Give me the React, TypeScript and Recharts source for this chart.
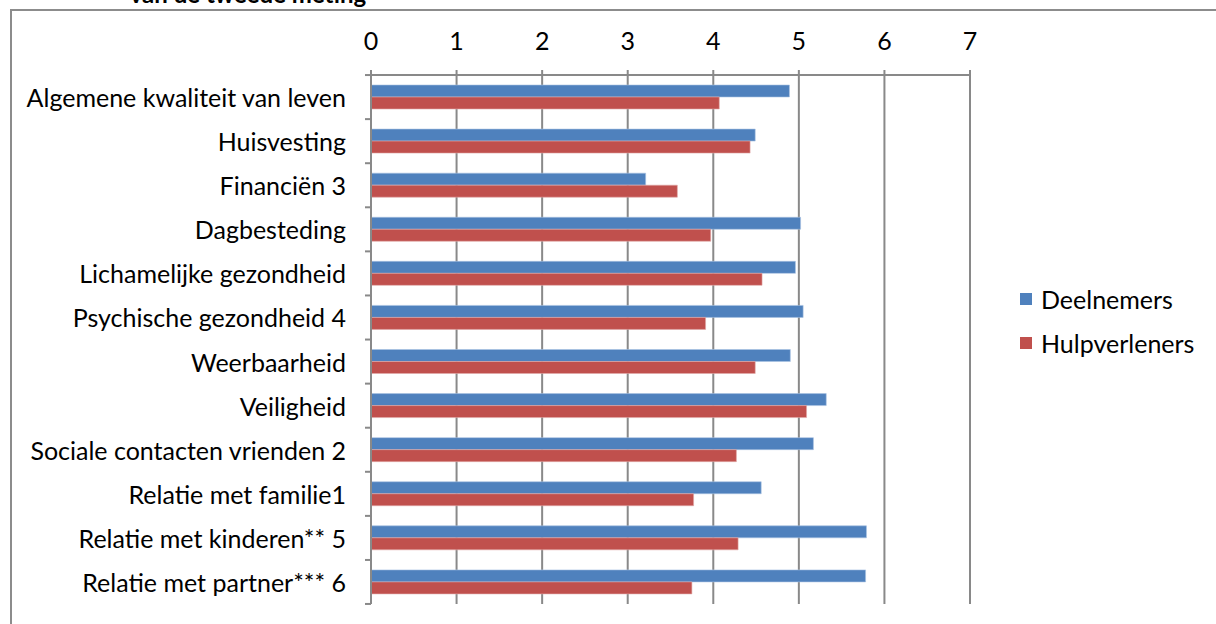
import React from 'react';
import {
  BarChart, Bar, XAxis, YAxis, CartesianGrid, Legend,
} from 'recharts';

const categories = [
  'Algemene kwaliteit van leven',
  'Huisvesting',
  'Financiën 3',
  'Dagbesteding',
  'Lichamelijke gezondheid',
  'Psychische gezondheid 4',
  'Weerbaarheid',
  'Veiligheid',
  'Sociale contacten vrienden 2',
  'Relatie met familie1',
  'Relatie met kinderen** 5',
  'Relatie met partner*** 6',
];
const deelnemers = [4.89, 4.49, 3.21, 5.02, 4.96, 5.05, 4.9, 5.32, 5.17, 4.56, 5.79, 5.78];
const hulpverleners = [4.07, 4.43, 3.58, 3.97, 4.57, 3.91, 4.49, 5.09, 4.27, 3.77, 4.29, 3.75];
const xTicks = [0, 1, 2, 3, 4, 5, 6, 7];

const BLUE = '#4F81BD';
const RED = '#C0504D';
const GRID = '#898989';
const FONT = 'Lato, "Open Sans", sans-serif';
const FS = 25;

const data = categories.map((name, i) => ({
  name,
  Deelnemers: deelnemers[i],
  Hulpverleners: hulpverleners[i],
}));

// category tick: label plus a small mark on the band boundary (Excel style)
function CategoryTick(props: any) {
  const { x, y, payload, index } = props;
  const half = 22;
  return (
    <g>
      <line x1={x} x2={x + 6} y1={y - half} y2={y - half} stroke={GRID} strokeWidth={2} />
      {index === categories.length - 1 && (
        <line x1={x} x2={x + 6} y1={y + half} y2={y + half} stroke={GRID} strokeWidth={2} />
      )}
      <text x={x - 19} y={y} textAnchor="end" dominantBaseline="central" fill="#000" fontSize={FS} fontFamily={FONT}>
        {payload.value}
      </text>
    </g>
  );
}

function LegendBox() {
  const items = [
    { label: 'Deelnemers', color: BLUE },
    { label: 'Hulpverleners', color: RED },
  ];
  return (
    <div style={{ fontFamily: FONT, fontSize: FS, color: '#000' }}>
      {items.map((it) => (
        <div key={it.label} style={{ display: 'flex', alignItems: 'center', height: 44 }}>
          <span style={{ display: 'inline-block', width: 12, height: 12, background: it.color, marginRight: 9 }} />
          <span>{it.label}</span>
        </div>
      ))}
    </div>
  );
}

function App() {
  return (
    <div style={{
      position: 'absolute', left: 0, top: 0, width: 1216, height: 624, overflow: 'hidden', background: '#fff',
    }}
    >
      <div style={{
        position: 'absolute', left: 10, top: 9, width: 1300, height: 700, border: '2px solid #8c8c8c', boxSizing: 'border-box',
      }}
      />
      <div style={{
        position: 'absolute', left: 0, width: 496, top: -18, textAlign: 'center', fontFamily: FONT, fontWeight: 'bold', fontSize: 24, lineHeight: '24px',
      }}
      >
        van de tweede meting
      </div>
      <div style={{ position: 'absolute', left: 0, top: 0 }}>
        <BarChart
          width={1216}
          height={624}
          data={data}
          layout="vertical"
          margin={{ top: 35, right: 56, bottom: 20, left: 0 }}
          barGap={0}
        >
          <CartesianGrid horizontal={false} vertical stroke={GRID} strokeWidth={2} />
          <XAxis
            type="number"
            orientation="top"
            domain={[0, 7]}
            ticks={xTicks}
            height={40}
            axisLine={{ stroke: GRID, strokeWidth: 2 }}
            tickLine={{ stroke: GRID, strokeWidth: 2 }}
            tickSize={5}
            tickMargin={20}
            tick={{ fill: '#000', fontSize: FS, fontFamily: FONT }}
            interval={0}
          />
          <YAxis
            type="category"
            dataKey="name"
            width={371}
            axisLine={{ stroke: GRID, strokeWidth: 2 }}
            tickLine={false}
            tickMargin={0}
            tick={<CategoryTick />}
            interval={0}
          />
          <Legend
            layout="vertical"
            align="right"
            verticalAlign="middle"
            content={<LegendBox />}
            wrapperStyle={{ left: 1020, top: 277, width: 190 }}
          />
          <Bar dataKey="Deelnemers" fill={BLUE} barSize={12} stroke="#a9c2e2" strokeWidth={0.6} isAnimationActive={false} />
          <Bar dataKey="Hulpverleners" fill={RED} barSize={12} stroke="#e0a9a8" strokeWidth={0.6} isAnimationActive={false} />
        </BarChart>
      </div>
    </div>
  );
}

export default App;
